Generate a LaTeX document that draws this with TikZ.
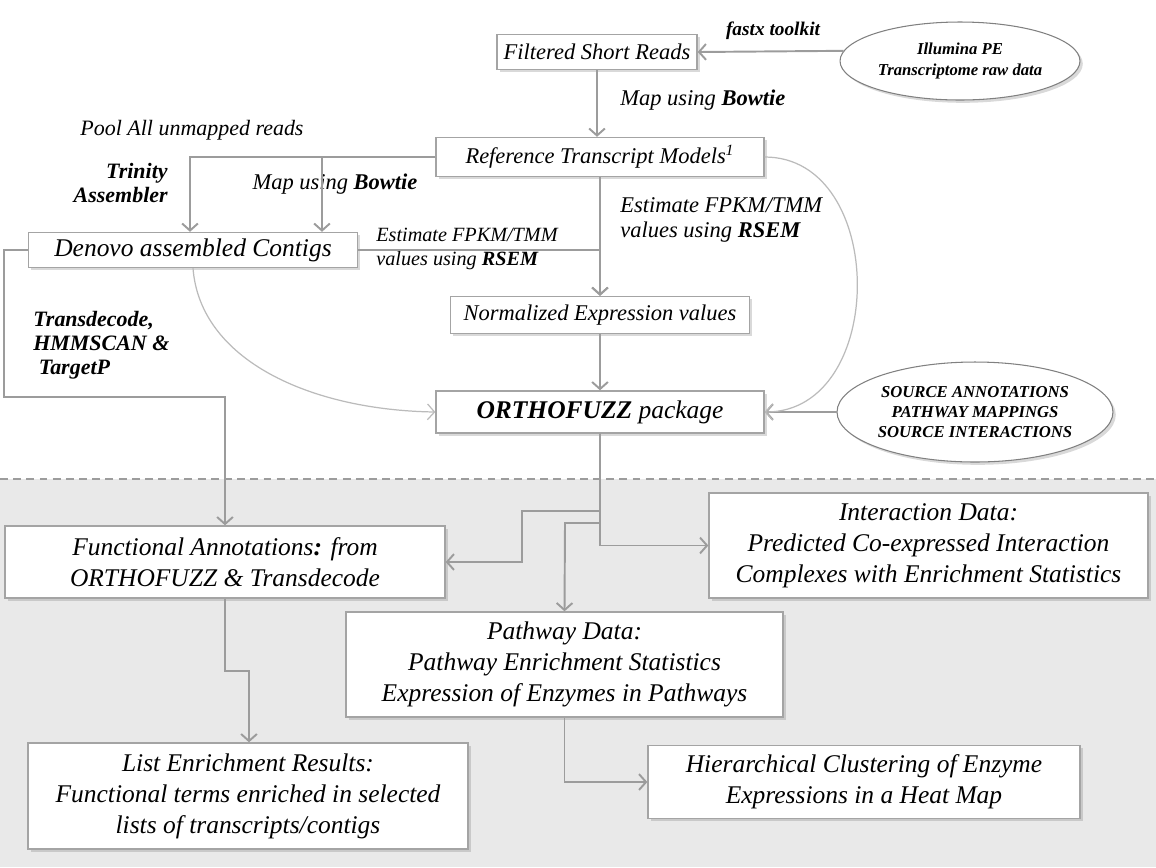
\documentclass[tikz,border=0pt]{standalone}
\usepackage{fontspec}
\setmainfont{Liberation Serif}
\usetikzlibrary{arrows.meta,shapes.geometric,shadows}
\definecolor{linegray}{HTML}{9C9C9C}
\definecolor{boxgray}{HTML}{A4A4A4}
\definecolor{curvegray}{HTML}{BBBBBB}
\definecolor{bggray}{HTML}{E9E9E9}
\begin{document}
\begin{tikzpicture}[x=0.02cm,y=-0.02cm,
	box/.style={draw=boxgray,fill=white,line width=0.8pt,inner sep=0pt,align=center,
		drop shadow={shadow xshift=1.6pt,shadow yshift=-1.6pt,opacity=0.3},
		font=\itshape\fontsize{12.8}{15}\selectfont},
	bigbox/.style={box,font=\itshape\fontsize{14.5}{17.6}\selectfont},
	blob/.style={ellipse,draw=gray,fill=white,line width=0.6pt,inner sep=0pt,align=center,
		drop shadow={shadow xshift=1.6pt,shadow yshift=-1.6pt,opacity=0.3},
		font=\bfseries\itshape\fontsize{9.5}{11.5}\selectfont},
	flow/.style={draw=linegray,line width=1.1pt,-{Straight Barb[length=4pt,width=9pt]}},
	curve/.style={draw=curvegray,line width=0.7pt,-{Straight Barb[length=4pt,width=9pt]}},
	lbl/.style={inner sep=0pt,font=\itshape\fontsize{12.8}{14.2}\selectfont},
	tool/.style={inner sep=0pt,font=\bfseries\itshape\fontsize{12.5}{13.5}\selectfont}]

	\useasboundingbox (0,0) rectangle (1156,867);
	\fill[bggray] (0,479) rectangle (1156,867);
	\draw[linegray,line width=1.6pt,dash pattern=on 4.5pt off 3pt] (0,479) -- (1156,479);

	% upper part
	\node[box,minimum width=4cm,minimum height=0.7cm] (filt) at (597,52) {Filtered Short Reads};
	\node[blob,minimum width=4.8cm,minimum height=1.56cm] (illu) at (960,61) {Illumina PE\\Transcriptome raw data};
	\node[box,minimum width=6.56cm,minimum height=0.78cm] (ref) at (600,157) {Reference Transcript Models\textsuperscript{1}};
	\node[bigbox,minimum width=6.58cm,minimum height=0.7cm] (denovo) at (193,250) {Denovo assembled Contigs};
	\node[box,minimum width=5.98cm,minimum height=0.74cm] (norm) at (600,315) {Normalized Expression values};
	\node[bigbox,minimum width=6.56cm,minimum height=0.84cm] (ortho) at (600,412) {\textbf{ORTHOFUZZ} package};
	\node[blob,minimum width=5.52cm,minimum height=2cm] (src) at (975,412) {SOURCE ANNOTATIONS\\PATHWAY MAPPINGS\\SOURCE INTERACTIONS};

	% lower part
	\node[bigbox,minimum width=8.8cm,minimum height=1.44cm] (func) at (225,562) {Functional Annotations\textbf{:} from\\ORTHOFUZZ \& Transdecode};
	\node[bigbox,minimum width=8.78cm,minimum height=2.1cm] (inter) at (928.5,545.5) {Interaction Data:\\Predicted Co-expressed Interaction\\Complexes with Enrichment Statistics};
	\node[bigbox,minimum width=8.74cm,minimum height=2.1cm] (path) at (564.5,664.5) {Pathway Data:\\Pathway Enrichment Statistics\\Expression of Enzymes in Pathways};
	\node[bigbox,minimum width=8.8cm,minimum height=2.12cm] (list) at (248,796) {List Enrichment Results:\\Functional terms enriched in selected\\lists of transcripts/contigs};
	\node[bigbox,minimum width=8.64cm,minimum height=1.46cm] (heat) at (864,782) {Hierarchical Clustering of Enzyme\\Expressions in a Heat Map};

	% labels
	\node[tool,font=\bfseries\itshape\fontsize{11}{13}\selectfont] (fastx) at (773,31) {fastx toolkit};
	\node[lbl,anchor=west] (mapone) at (620,100) {Map using \textbf{Bowtie}};
	\node[lbl,font=\itshape\fontsize{12.5}{14}\selectfont] (pool) at (192,130) {Pool All unmapped reads};
	\node[tool,align=right,anchor=east] (trinity) at (168,183) {Trinity\\Assembler};
	\node[lbl] (maptwo) at (335,184) {Map using \textbf{Bowtie}};
	\node[lbl,align=left,anchor=west,font=\itshape\fontsize{11.5}{13.6}\selectfont] (rsemone) at (376,249) {Estimate FPKM/TMM\\values using \textbf{RSEM}};
	\node[lbl,align=left,anchor=west] (rsemtwo) at (620,220) {Estimate FPKM/TMM\\values using \textbf{RSEM}};
	\node[tool,align=left,anchor=west] (transd) at (33,345) {Transdecode,\\HMMSCAN \&\\\ TargetP};

	\coordinate (tdcorner) at (4,397);
	\coordinate (funcjoin) at (522,511);
	\coordinate (pathjoin) at (565,523);
	\coordinate (listjoin) at (249,671);

	% connectors
	\draw[flow] (illu.175) -- (filt.east);
	\draw[flow] (filt.south) -- (filt.south |- ref.north);
	\draw[flow] (ref.west) -| ([xshift=-0.06cm]denovo.north);
	\draw[flow] (ref.west) -| ([xshift=2.58cm]denovo.north);
	\draw[flow] (denovo.east) -| (norm.north);
	\draw[flow] (ref.south) -- (norm.north);
	\draw[flow] (norm.south) -- (ortho.north);
	\draw[flow] (src.west) -- (ortho.east);
	\draw[curve] (denovo.south) .. controls (200,360) and (310,410) .. (ortho.west);
	\draw[curve] (ref.east) .. controls (888,157) and (888,412) .. (ortho.east);
	\draw[flow] (denovo.west) -| (tdcorner) -| (func.north);

	\draw[flow] (ortho.south) |- (inter.west);
	\draw[flow] (ortho.south) |- (funcjoin) |- (func.east);
	\draw[flow] (ortho.south) |- (pathjoin) -- (path.north);
	\draw[flow] (func.south) |- (listjoin) -- (list.north -| listjoin);
	\draw[flow] (path.south) |- (heat.west);
\end{tikzpicture}
\end{document}
